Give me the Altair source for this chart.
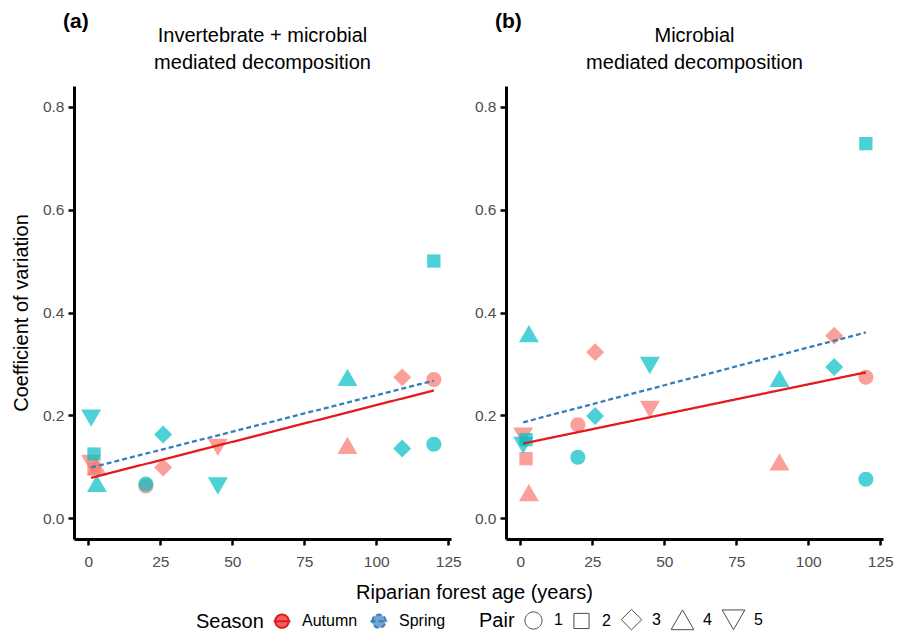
import altair as alt
import pandas as pd

# ---- data ----
seasons = ["Autumn", "Spring"]
pair_labels = ["1", "2", "3", "4", "5"]
site_age = [20, 2, 26, 3, 1, 120, 120, 109, 90, 45]      # riparian forest age (years)
site_pair = ["1", "2", "3", "4", "5", "1", "2", "3", "4", "5"]

# (a) invertebrate + microbial mediated decomposition
a_autumn = [0.063, 0.097, 0.099, 0.100, 0.107, 0.270, None, 0.274, 0.142, 0.138]
a_spring = [0.067, 0.125, 0.163, 0.068, 0.195, 0.144, 0.500, 0.136, 0.274, 0.063]
# (b) microbial mediated decomposition
b_autumn = [0.182, 0.116, 0.323, 0.050, 0.160, 0.274, None, 0.355, 0.110, 0.212]
b_spring = [0.119, 0.153, 0.199, 0.359, 0.142, 0.076, 0.728, 0.294, 0.272, 0.297]

panel_tags = ["(a)", "(b)"]
panel_titles = ["Invertebrate + microbial\nmediated decomposition",
                "Microbial\nmediated decomposition"]
x_ticks = [0, 25, 50, 75, 100, 125]
y_ticks = [0.0, 0.2, 0.4, 0.6, 0.8]

FONT = "Liberation Sans"
W, H = 377, 453


def panel_df(autumn, spring):
    rows = []
    for season, vals in zip(seasons, (autumn, spring)):
        for age, pair, v in zip(site_age, site_pair, vals):
            if v is not None:
                rows.append({"age": age, "cv": v, "Season": season, "Pair": pair})
    return pd.DataFrame(rows)


CIRCLE = "M-1.13,0A1.13,1.13,0,1,1,1.13,0A1.13,1.13,0,1,1,-1.13,0Z"
shape_range = [CIRCLE, "square",
               "M0,-1.35L1.35,0L0,1.35L-1.35,0Z",
               "M0,-1.3L1.5,1.3L-1.5,1.3Z",
               "M0,1.3L1.5,-1.3L-1.5,-1.3Z"]

season_legend = alt.Legend(
    title="Season",
    symbolType="M-1,0A1,1,0,1,1,1,0A1,1,0,1,1,-1,0ZM-1.25,0L1.25,0",
    symbolSize=180, symbolStrokeWidth=2,
    symbolFillColor=alt.ExprRef("datum.value === 'Autumn' ? '#EE6263' : '#74A6D0'"),
    orient="none", legendX=122, legendY=527)
color_enc = alt.Color("Season:N", scale=alt.Scale(domain=seasons, range=["#E41A1C", "#377EB8"]),
                      legend=season_legend)
dash_enc = alt.StrokeDash("Season:N", scale=alt.Scale(domain=seasons, range=[[1, 0], [5, 3]]),
                          legend=season_legend)
# reversed domain order so the (hidden) fill legend is not merged with the Season legend
fill_enc = alt.Fill("Season:N", scale=alt.Scale(domain=seasons[::-1], range=["#00BFC4", "#F8766D"]),
                    legend=None)
shape_enc = alt.Shape("Pair:N", scale=alt.Scale(domain=pair_labels, range=shape_range),
                      legend=alt.Legend(title="Pair", symbolFillColor="transparent",
                                        symbolStrokeColor="black", symbolStrokeWidth=1,
                                        symbolSize=230, orient="none",
                                        legendX=405, legendY=525))


def panel(df, idx):
    first = idx == 0
    x = alt.X("age:Q", scale=alt.Scale(domain=[-4.95, 125.95], nice=False, zero=False),
              axis=alt.Axis(values=x_ticks, title="Riparian forest age (years)" if first else None,
                            titleX=400, titlePadding=13))
    y = alt.Y("cv:Q", scale=alt.Scale(domain=[-0.04, 0.84], nice=False, zero=False),
              axis=alt.Axis(values=y_ticks, format=".1f",
                            title="Coefficient of variation" if first else None))
    pts = alt.Chart(df).mark_point(filled=True, size=177, opacity=0.7, strokeWidth=0).encode(
        x=x, y=y, fill=fill_enc, shape=shape_enc)
    lines = alt.Chart(df).transform_regression(
        "age", "cv", groupby=["Season"]).mark_line(strokeWidth=2.3).encode(
        x=x, y=y, color=color_enc, strokeDash=dash_enc)
    txt = alt.Chart(pd.DataFrame({"label": [panel_titles[idx]]})).mark_text(
        lineBreak="\n", fontSize=20, lineHeight=27, baseline="alphabetic", align="center",
        font=FONT, color="black").encode(
        text="label:N", x=alt.value(W / 2), y=alt.value(-44))
    return alt.layer(pts, lines, txt).properties(
        width=W, height=H,
        title=alt.TitleParams(panel_tags[idx], anchor="start", frame="group", dx=-11,
                              offset=-6, fontSize=21, fontWeight="bold", font=FONT,
                              color="black"))


chart = alt.hconcat(
    panel(panel_df(a_autumn, a_spring), 0),
    panel(panel_df(b_autumn, b_spring), 1),
    spacing=55, bounds="flush"
).resolve_scale(
    color="shared", fill="shared", shape="shared", strokeDash="shared"
).properties(
    padding={"left": 3, "top": 3, "right": 0, "bottom": 0}, background="white"
).configure(font=FONT).configure_view(stroke=None).configure_axis(
    domainColor="black", domainWidth=3, tickColor="black", tickWidth=2.5, tickSize=6,
    labelColor="#4D4D4D", labelFontSize=15.5, labelFont=FONT, labelPadding=4,
    titleFontSize=20, titleFontWeight="normal", titleColor="black", titleFont=FONT,
    grid=False
).configure_axisY(titlePadding=11).configure_axisX(labelPadding=9).configure_legend(
    direction="horizontal", titleOrient="left", titleFontSize=20,
    titleFontWeight="normal", titleColor="black", titleFont=FONT, labelFont=FONT,
    labelFontSize=16, labelColor="black", labelOffset=12, columnPadding=8, titlePadding=10
)

chart.save("out.html", embed_options={"renderer": "svg", "actions": False})
